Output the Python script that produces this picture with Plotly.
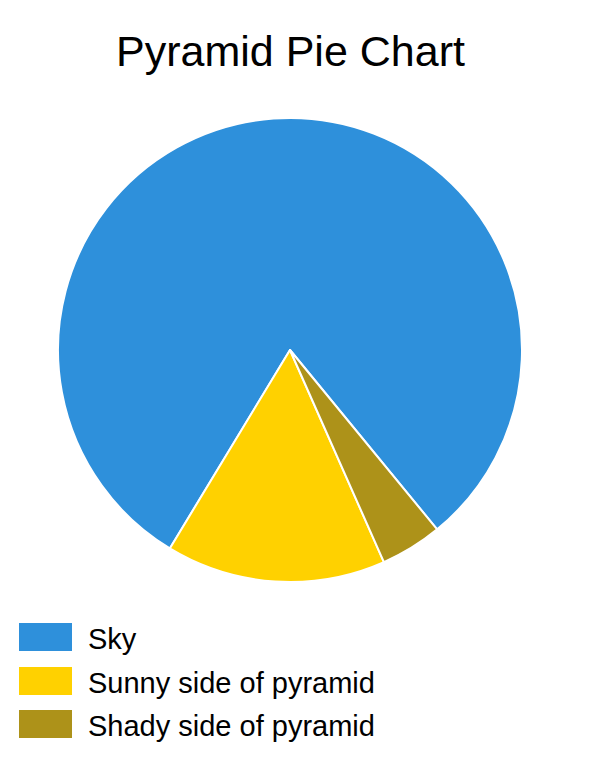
import plotly.graph_objects as go

labels = ["Sky", "Sunny side of pyramid", "Shady side of pyramid"]
values = [80.4, 15.3, 4.3]
colors = ["#2E90DB", "#FFD100", "#AD9219"]

W, H = 604, 757
OFF = 8  # page body margin pushes everything down/right by 8px


def px(x):
    return (x - OFF) / W


def py(y):
    return 1 - (y - OFF) / H


fig = go.Figure()
fig.add_trace(go.Pie(
    labels=labels,
    values=values,
    marker=dict(colors=colors, line=dict(color="white", width=2)),
    sort=False,
    direction="counterclockwise",
    rotation=211.2,
    textinfo="none",
    hoverinfo="label+percent",
    domain=dict(x=[px(58), px(522)], y=[py(582), py(118)]),
    showlegend=False,
))

# title
fig.add_annotation(text="Pyramid Pie Chart", x=px(290), y=py(51),
                   xref="paper", yref="paper", showarrow=False,
                   xanchor="center", yanchor="middle",
                   font=dict(family="Liberation Sans", size=43, color="black"))

# hand made legend with big swatches
row_y = [637, 681, 724]
for lab, col, yy in zip(labels, colors, row_y):
    fig.add_shape(type="rect", xref="paper", yref="paper",
                  x0=px(19), x1=px(72), y0=py(yy - 14), y1=py(yy + 14),
                  fillcolor=col, line=dict(width=0))
    fig.add_annotation(text=lab, x=px(86), y=py(yy + 2), xref="paper", yref="paper",
                       showarrow=False, xanchor="left", yanchor="middle",
                       font=dict(family="Liberation Sans", size=29, color="black"))

fig.update_layout(width=W, height=H, margin=dict(l=0, r=0, t=0, b=0),
                  paper_bgcolor="white", plot_bgcolor="white")

fig.write_html("out.html")
